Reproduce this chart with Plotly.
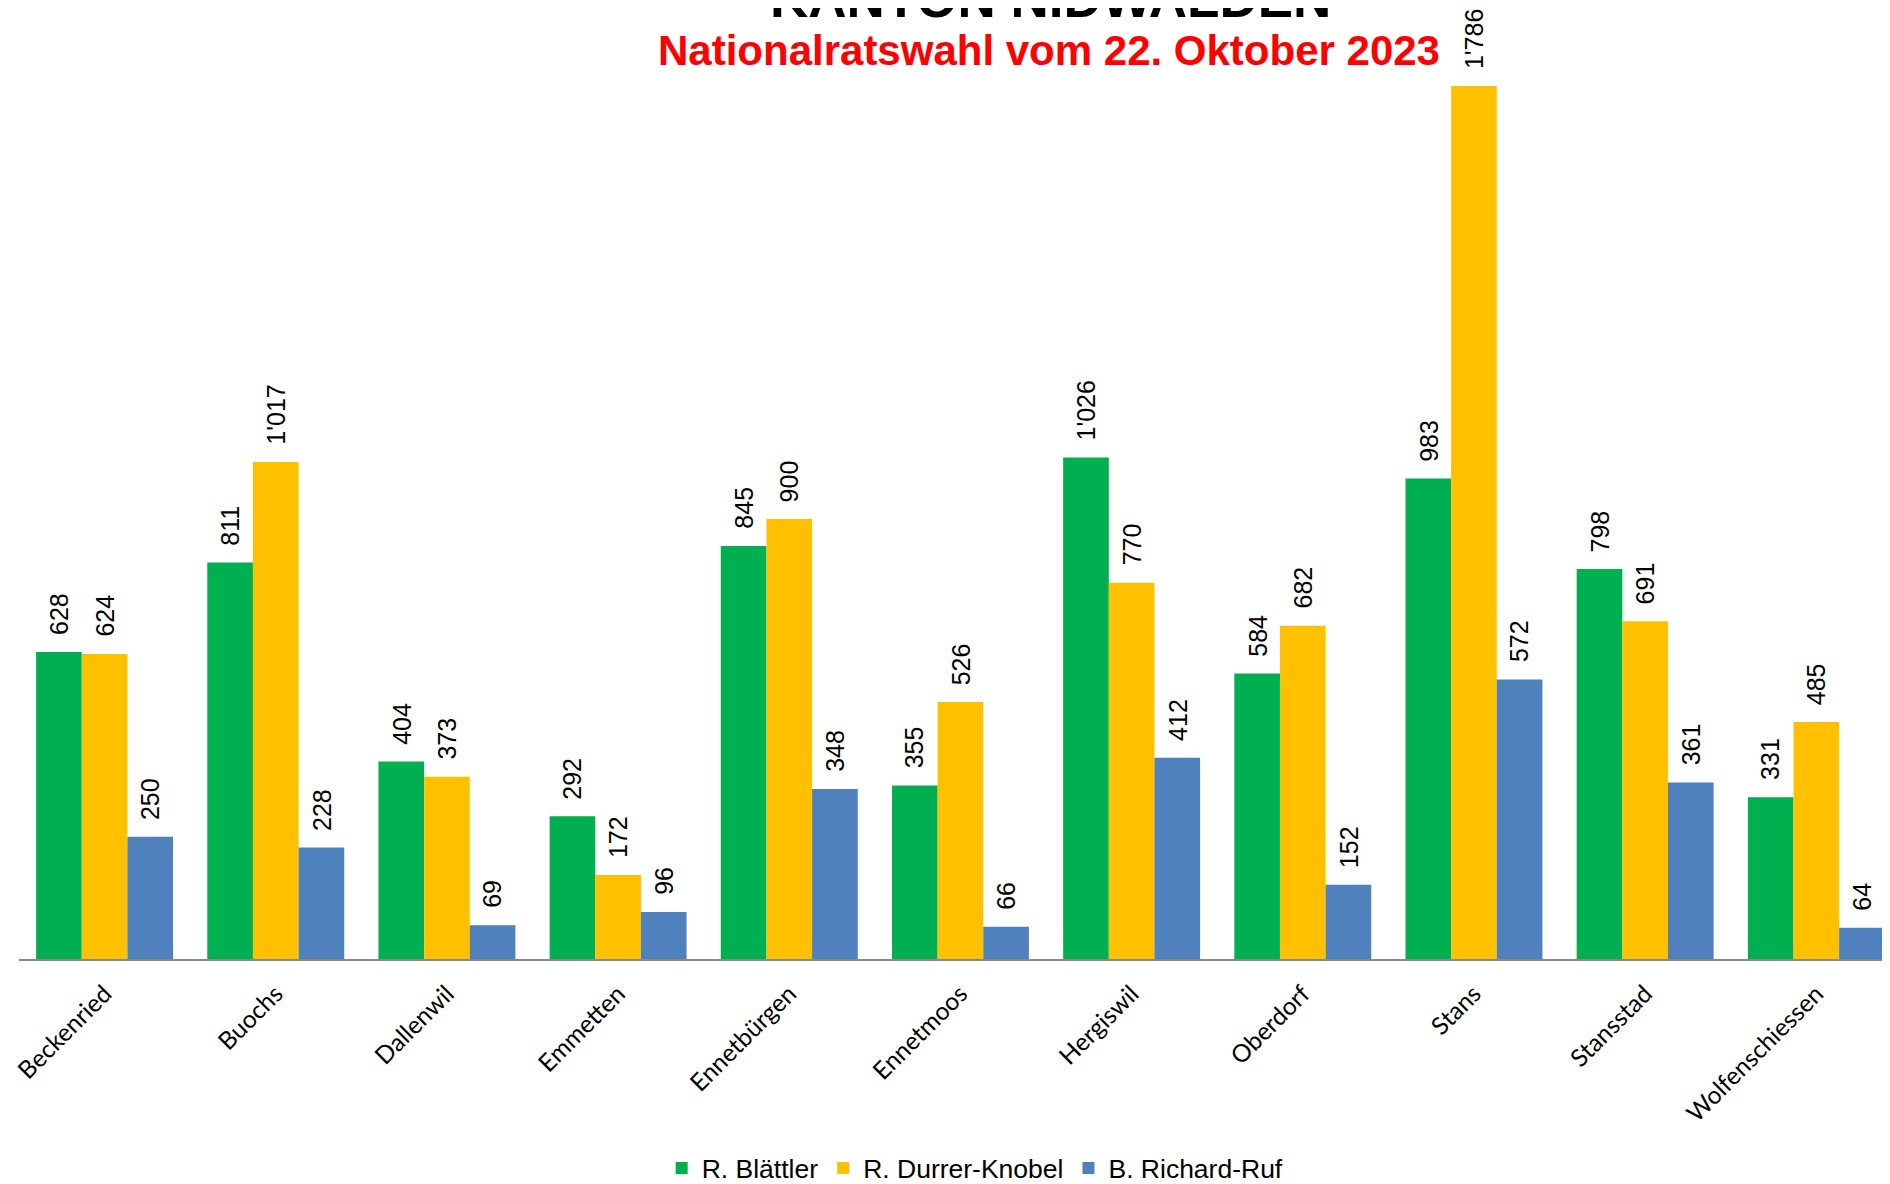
import plotly.graph_objects as go

categories = ["Beckenried", "Buochs", "Dallenwil", "Emmetten", "Ennetbürgen", "Ennetmoos",
              "Hergiswil", "Oberdorf", "Stans", "Stansstad", "Wolfenschiessen"]
series_names = ["R. Blättler", "R. Durrer-Knobel", "B. Richard-Ruf"]
blaettler = [628, 811, 404, 292, 845, 355, 1026, 584, 983, 798, 331]
durrer = [624, 1017, 373, 172, 900, 526, 770, 682, 1786, 691, 485]
richard = [250, 228, 69, 96, 348, 66, 412, 152, 572, 361, 64]
colors = ["#00B050", "#FFC000", "#4F81BD"]

# page body has an 8px margin: work in figure coordinates = screen - 8
OFF = 8
W, H = 1890 - OFF, 1184 - OFF
ML, MR, MT = 18.7 - OFF, 0, 0
baseline = 958.7 - OFF
MB = H - baseline
plot_w = W - ML - MR
plot_h = H - MT - MB
unit_px = 171.2
x_max = -0.5 + plot_w / unit_px
px_per_val = 0.4886
y_max = plot_h / px_per_val

FONT = "Liberation Sans, Arial, sans-serif"

def fmt(v):
    return f"{v:,}".replace(",", "'")

def py(screen_y):
    return (baseline - (screen_y - OFF)) / plot_h

def px(screen_x):
    return ((screen_x - OFF) - ML) / plot_w

fig = go.Figure()
all_series = [blaettler, durrer, richard]
for name, vals, col in zip(series_names, all_series, colors):
    fig.add_trace(go.Bar(x=categories, y=vals, name=name, marker=dict(color=col, line=dict(width=0))))

bar_w = unit_px * 0.8 / 3
annotations = []
for si, vals in enumerate(all_series):
    off = (si - 1) * bar_w
    for c, v in zip(categories, vals):
        annotations.append(dict(x=c, y=v, xref="x", yref="y", text=fmt(v), showarrow=False,
                                textangle=-90, xshift=off, yanchor="bottom", yshift=15,
                                font=dict(family=FONT, size=25, color="#000000")))

annotations.append(dict(x=px(1050), y=py(30), xref="paper", yref="paper",
                        text="<b>KANTON NIDWALDEN</b>", showarrow=False, yanchor="bottom",
                        font=dict(family=FONT, size=53, color="#000000")))
annotations.append(dict(x=px(1049), y=py(76), xref="paper", yref="paper",
                        text="<b>Nationalratswahl vom 22. Oktober 2023</b>", showarrow=False,
                        yanchor="bottom", font=dict(family=FONT, size=42, color="#FF0000")))

fig.update_layout(
    width=W, height=H,
    margin=dict(l=ML, r=MR, t=MT, b=MB, autoexpand=False),
    paper_bgcolor="white", plot_bgcolor="white",
    barmode="group", bargap=0.2, bargroupgap=0,
    showlegend=True,
    legend=dict(orientation="h", x=px(975), xanchor="center", y=py(1168),
                yanchor="middle", font=dict(family=FONT, size=26.5, color="#000000"),
                itemclick=False, traceorder="normal"),
    annotations=annotations,
    xaxis=dict(range=[-0.5, x_max], tickangle=-45, showline=True, linecolor="#898989",
               linewidth=1.5, ticks="", showgrid=False, zeroline=False, automargin=False,
               ticklabelstandoff=9,
               tickfont=dict(family="Lato, Calibri, sans-serif", size=24.5, color="#000000")),
    yaxis=dict(range=[0, y_max], visible=False, showgrid=False, zeroline=False, automargin=False),
)

fig.write_html("out.html")
